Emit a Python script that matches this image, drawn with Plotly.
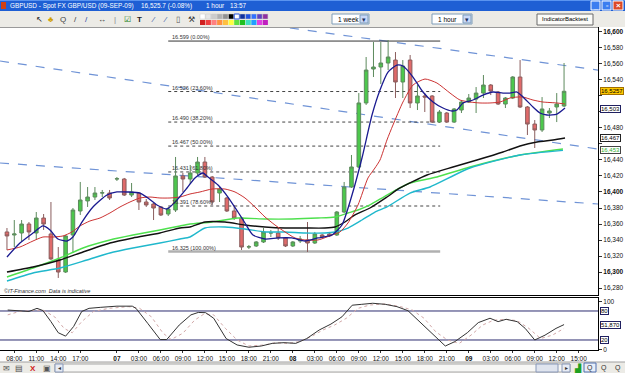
import plotly.graph_objects as go

# ---------------- data ----------------
candle_open = [16.3501,16.3463,16.3488,16.3600,16.3488,16.3675,16.3476,16.3151,16.3001,16.3463,
               16.3763,16.3888,16.3937,16.3987,16.3987,16.4162,16.4162,16.3962,16.3987,16.3875,
               16.3850,16.3813,16.3725,16.3775,16.4200,16.4162,16.4237,16.4374,16.4187,16.3987,
               16.3925,16.3763,16.3675,16.3313,16.3326,16.3376,16.3488,16.3488,16.3426,16.3326,
               16.3388,16.3401,16.3363,16.3463,16.3476,16.3463,16.3750,16.4062,16.4312,16.5111,
               16.5535,16.5560,16.5610,16.5647,16.5373,16.5647,16.5111,16.5198,16.5198,16.4873,
               16.4986,16.4873,16.5023,16.5123,16.5160,16.5235,16.5335,16.5248,16.5098,16.5173,
               16.5435,16.5061,16.4848,16.4774,16.4986,16.5061,16.5073]
candle_high = [16.3550,16.3650,16.3650,16.3625,16.3750,16.3725,16.3875,16.3313,16.3463,16.3800,
               16.4125,16.4062,16.4062,16.4025,16.4025,16.4187,16.4175,16.4112,16.4000,16.3912,
               16.3863,16.3825,16.3813,16.4437,16.4237,16.4337,16.4437,16.4437,16.4200,16.4062,
               16.3937,16.3838,16.3688,16.3338,16.3388,16.3550,16.3526,16.3550,16.3438,16.3388,
               16.3451,16.3625,16.3501,16.3476,16.3501,16.3763,16.4125,16.4462,16.5235,16.5685,
               16.5872,16.5872,16.5897,16.5747,16.5647,16.5710,16.5335,16.5235,16.5210,16.5023,
               16.4998,16.5048,16.5148,16.5223,16.5310,16.5460,16.5348,16.5260,16.5185,16.5447,
               16.5647,16.5073,16.4898,16.5185,16.5048,16.5235,16.5610]
candle_low = [16.3276,16.3313,16.3376,16.3401,16.3401,16.3526,16.3151,16.2927,16.2989,16.3239,
              16.3713,16.3813,16.3900,16.3937,16.3900,16.4137,16.3950,16.3937,16.3775,16.3813,
              16.3650,16.3700,16.3700,16.3750,16.4000,16.4100,16.4212,16.4175,16.3838,16.3875,
              16.3750,16.3650,16.3276,16.3288,16.3313,16.3363,16.3438,16.3401,16.3313,16.3313,
              16.3363,16.3251,16.3351,16.3426,16.3438,16.3451,16.3738,16.4050,16.4299,16.5086,
              16.5435,16.5348,16.5522,16.5173,16.5173,16.5048,16.5023,16.4998,16.4861,16.4861,
              16.4861,16.4861,16.4986,16.5111,16.4986,16.5173,16.5210,16.5086,16.5048,16.5160,
              16.5048,16.4711,16.4549,16.4749,16.4923,16.4873,16.5061]
candle_close = [16.3451,16.3476,16.3600,16.3501,16.3675,16.3600,16.3164,16.3001,16.3451,16.3775,
                16.3900,16.3937,16.3987,16.3990,16.3925,16.4165,16.3962,16.4000,16.3875,16.3838,
                16.3800,16.3713,16.3788,16.4200,16.4162,16.4237,16.4374,16.4187,16.3875,16.4037,
                16.3763,16.3675,16.3313,16.3316,16.3376,16.3501,16.3490,16.3426,16.3326,16.3376,
                16.3413,16.3363,16.3476,16.3438,16.3451,16.3750,16.4062,16.4312,16.5111,16.5522,
                16.5560,16.5610,16.5685,16.5373,16.5572,16.5111,16.5198,16.5185,16.4873,16.4998,
                16.4873,16.5036,16.5123,16.5173,16.5235,16.5335,16.5260,16.5098,16.5173,16.5435,
                16.5061,16.4848,16.4774,16.5036,16.5011,16.5098,16.5257]
candle_idx = list(range(len(candle_open)))

# moving averages (candle index, price)
blue_ma_x = [0,1.77,3.55,4.91,5.87,6.96,8.19,9.0,10.23,11.73,13.64,15.0,16.51,18.14,19.24,20.46,21.83,23.19,
             24.56,25.65,26.74,27.42,28.79,30.15,31.51,32.47,33.56,35.2,36.97,38.88,40.65,42.43,44.34,45.7,
             47.07,48.43,49.8,50.89,51.98,53.2,54.02,55.39,56.75,58.12,59.48,60.71,61.39,62.21,63.57,64.94,
             66.3,67.67,68.62,69.58,70.4,71.76,72.71,73.67,75.03,76.13]
blue_ma_y = [16.3189,16.3363,16.3488,16.3576,16.3526,16.3413,16.3388,16.3438,16.3625,16.3813,16.3962,16.4000,
             16.4000,16.3987,16.3925,16.3838,16.3788,16.3900,16.4050,16.4175,16.4237,16.4187,16.4087,16.3937,
             16.3750,16.3613,16.3463,16.3413,16.3426,16.3426,16.3388,16.3426,16.3463,16.3588,16.3962,16.4424,
             16.4961,16.5273,16.5497,16.5585,16.5572,16.5435,16.5248,16.5123,16.5048,16.5011,16.5023,16.5111,
             16.5148,16.5210,16.5248,16.5235,16.5235,16.5248,16.5185,16.5061,16.4986,16.4961,16.4973,16.5048]
red_ma_x = [0,1.77,3.55,4.91,6.28,7.64,8.87,9.96,11.32,12.69,14.05,15.42,16.78,18.14,19.51,20.87,22.24,23.6,
            24.97,26.33,27.97,29.74,31.11,32.47,33.83,35.2,36.56,37.93,39.29,40.65,42.43,44.34,45.43,46.52,
            47.89,49.25,50.2,50.89,51.84,52.66,54.02,55.39,57.03,58.66,60.44,61.8,63.17,64.53,65.89,67.26,
            68.62,69.58,70.4,71.76,73.12,75.03,76.13]
red_ma_y = [16.3276,16.3313,16.3388,16.3438,16.3438,16.3451,16.3501,16.3576,16.3638,16.3675,16.3738,16.3813,
            16.3875,16.3925,16.3937,16.3925,16.3925,16.3937,16.3975,16.4000,16.4037,16.4037,16.4000,16.3925,
            16.3813,16.3688,16.3588,16.3501,16.3426,16.3401,16.3401,16.3463,16.3501,16.3613,16.3838,16.4175,
            16.4299,16.4399,16.4649,16.4836,16.5123,16.5335,16.5410,16.5360,16.5235,16.5148,16.5123,16.5111,
            16.5111,16.5123,16.5173,16.5185,16.5185,16.5148,16.5123,16.5111,16.5098]
black_ma_x = [0,3.55,7.23,10.37,14.05,17.19,20.87,23.6,24.97,27.01,29.74,32.47,35.2,37.93,40.65,43.38,44.75,
              46.11,47.48,49.52,51.84,53.62,57.3,60.85,64.12,67.67,69.99,72.31,74.49,76.13]
black_ma_y = [16.3001,16.3064,16.3151,16.3251,16.3363,16.3426,16.3488,16.3550,16.3563,16.3625,16.3625,16.3588,
              16.3563,16.3550,16.3550,16.3550,16.3563,16.3625,16.3713,16.3800,16.3937,16.4050,16.4212,16.4312,
              16.4399,16.4499,16.4574,16.4624,16.4649,16.4674]
green_ma_x = [0,3.55,7.23,10.37,14.05,17.19,20.87,23.6,24.97,27.97,31.51,35.2,38.88,42.43,44.75,46.52,47.89,
              49.52,51.84,54.98,58.66,63.17,69.99,75.85]
green_ma_y = [16.2939,16.3051,16.3176,16.3301,16.3401,16.3463,16.3526,16.3576,16.3600,16.3625,16.3675,16.3663,
              16.3663,16.3675,16.3688,16.3738,16.3775,16.3838,16.3962,16.4112,16.4187,16.4312,16.4462,16.4537]
cyan_ma_x = [0,3.55,7.23,10.91,14.05,17.19,20.87,23.6,24.97,27.01,29.74,32.47,35.2,37.93,40.65,43.38,44.75,
             46.52,48.43,50.2,51.84,54.98,57.71,63.17,69.99,75.85]
cyan_ma_y = [16.2889,16.2989,16.3051,16.3151,16.3239,16.3301,16.3363,16.3413,16.3438,16.3550,16.3563,16.3538,
             16.3501,16.3501,16.3488,16.3488,16.3501,16.3550,16.3650,16.3750,16.3813,16.3987,16.4062,16.4299,
             16.4462,16.4520]

# drawn trend lines: (x0, y0, x1, y1)
trend_lines = [(-0.95, 16.5635, 80.63, 16.4536),
               (38.6, 16.6047, 80.63, 16.5522),
               (-0.95, 16.4362, 80.63, 16.3850)]

# fibonacci retracement
fib_price = [16.5884, 16.5254, 16.4873, 16.4573, 16.4250, 16.3825, 16.3257]
fib_text = ['16.599 (0.00%)', '16.526 (23.60%)', '16.490 (38.20%)', '16.467 (50.00%)',
            '16.431 (61.80%)', '16.391 (78.60%)', '16.325 (100.00%)']
fib_x0, fib_x1 = 22.0, 59.1

# stochastic oscillator
stoch_k_x = [0.1,1.6,3.0,4.1,4.9,6.0,7.0,8.0,9.1,10.2,11.2,12.8,15.0,17.1,17.6,19.2,20.9,21.8,23.5,25.1,26.1,
             27.1,28.2,29.9,31.4,33.0,34.7,36.2,37.8,39.4,40.9,42.6,44.2,45.7,47.1,48.4,49.9,51.6,53.2,54.7,56.3,
             58.0,59.8,61.1,62.8,64.3,65.9,67.0,68.1,69.6,70.7,72.0,73.4,74.9,76.0]
stoch_k = [82,81,79,85.5,81,58,35,28,48,79,85.5,87.6,90,90,85.5,54.5,21,21,51,72,77,76.5,65,23,9.7,5,7.6,13,
           14.5,13,23,40.7,53,68,92,93.8,96,93.8,89,80.7,58,34,7.6,16.6,35,56,65,58,62.8,58,44,20,30,44,51.87]
stoch_d_x = [0.1,1.7,3.3,4.9,6.5,7.8,8.9,10.2,11.8,13.9,16.6,18.1,19.7,21.3,22.4,24.0,25.6,26.9,28.2,29.8,31.4,
             33.0,35.1,36.7,38.3,39.9,41.5,43.1,44.7,46.3,47.9,49.5,51.6,53.7,55.3,56.9,58.5,60.1,61.7,63.3,64.9,
             66.4,68.0,69.6,71.2,72.8,74.4,76.0]
stoch_d = [72,79,81,82,68,44,35,58,79,85.5,89,85.5,68,34,21,34,61,74,72,44,20,7.6,9.7,14.5,13,16.6,27,40.7,
           51,65,85.5,92.4,94.5,89,82,65,37,20,13,30,51,61,62.8,60,44,23,30,44]

# axis ticks
time_tick_idx = [1,4,7,10,15,18,21,24,27,30,33,36,39,42,45,48,51,54,57,60,63,66,69,72,75,78]
time_tick_text = ['08:00','11:00','14:00','17:00','<b>07</b>','03:00','06:00','09:00','12:00','15:00','18:00',
                  '21:00','<b>08</b>','03:00','06:00','09:00','12:00','15:00','18:00','21:00','<b>09</b>',
                  '03:00','06:00','09:00','12:00','15:00']
price_ticks = [16.28 + 0.02 * i for i in range(17)]
price_hidden = ['16.460', '16.500', '16.520']   # covered by the value boxes in the picture
price_tick_text = []
for v in price_ticks:
    s = '%.3f' % v
    if s in price_hidden:
        price_tick_text.append('')
    elif abs(v * 10 - round(v * 10)) < 1e-6:
        price_tick_text.append('<b>%s</b>' % s.replace('.', ','))
    else:
        price_tick_text.append(s.replace('.', ','))

# ---------------- layout helpers (pixel -> paper) ----------------
PLX0, PLX1, PLY0, PLY1 = 0, 598, 28, 350
def X(p): return (p - PLX0) / (PLX1 - PLX0)
def Y(p): return 1 - (p - PLY0) / (PLY1 - PLY0)

shapes, annos = [], []
FONT = 'Liberation Sans'

def rect(x0, y0, x1, y1, fill, line=None, lw=1):
    shapes.append(dict(type='rect', xref='paper', yref='paper', x0=X(x0), x1=X(x1), y0=Y(y1), y1=Y(y0),
                       fillcolor=fill, line=dict(color=line if line else fill, width=lw if line else 0),
                       layer='above'))

def hline(x0, x1, y, color, w=1):
    shapes.append(dict(type='line', xref='paper', yref='paper', x0=X(x0), x1=X(x1), y0=Y(y), y1=Y(y),
                       line=dict(color=color, width=w), layer='above'))

def txt(x, y, s, size=7, color='#000', anchor='left', bold=False, italic=False):
    if bold: s = '<b>' + s + '</b>'
    if italic: s = '<i>' + s + '</i>'
    annos.append(dict(x=X(x), y=Y(y), xref='paper', yref='paper', text=s, showarrow=False, xanchor=anchor,
                      yanchor='middle', font=dict(size=size, color=color, family=FONT)))

fig = go.Figure()

fig.add_trace(go.Candlestick(
    x=candle_idx, open=candle_open, high=candle_high, low=candle_low, close=candle_close,
    xaxis='x2', yaxis='y2', whiskerwidth=0, hoverinfo='skip', showlegend=False,
    increasing=dict(fillcolor='#4cc84c', line=dict(color='#5d8a5d', width=1)),
    decreasing=dict(fillcolor='#e06a6a', line=dict(color='#8a5d5d', width=1))))

for xs, ys, col, w in [(green_ma_x, green_ma_y, '#4ee04e', 1.4), (cyan_ma_x, cyan_ma_y, '#20b8cc', 1.4),
                       (black_ma_x, black_ma_y, '#111111', 1.4), (red_ma_x, red_ma_y, '#cc3333', 1.0),
                       (blue_ma_x, blue_ma_y, '#1a1a90', 1.3)]:
    fig.add_trace(go.Scatter(x=xs, y=ys, mode='lines', xaxis='x2', yaxis='y2', hoverinfo='skip',
                             line=dict(color=col, width=w, shape='spline', smoothing=0.6), showlegend=False))

fig.add_trace(go.Scatter(x=stoch_d_x, y=stoch_d, mode='lines', xaxis='x', yaxis='y', hoverinfo='skip',
                         line=dict(color='#d2a8a8', width=1, dash='dot'), showlegend=False))
fig.add_trace(go.Scatter(x=stoch_k_x, y=stoch_k, mode='lines', xaxis='x', yaxis='y', hoverinfo='skip',
                         line=dict(color='#333333', width=1), showlegend=False))

# trend lines
for (x0, y0, x1, y1) in trend_lines:
    shapes.append(dict(type='line', xref='x2', yref='y2', x0=x0, y0=y0, x1=x1, y1=y1, layer='below',
                       line=dict(color='#6f93d6', width=1.2, dash='dash')))
# fib lines
for i, (p, t) in enumerate(zip(fib_price, fib_text)):
    if i == 0:
        ln = dict(color='#333333', width=1)
    elif i == len(fib_price) - 1:
        ln = dict(color='#b0b0b0', width=2.5)
    else:
        ln = dict(color='#444444', width=1, dash='dot')
    shapes.append(dict(type='line', xref='x2', yref='y2', x0=fib_x0, x1=fib_x1, y0=p, y1=p, layer='below', line=ln))
    annos.append(dict(x=fib_x0 + 0.25, y=p, xref='x2', yref='y2', text=t, showarrow=False, xanchor='left',
                      yanchor='bottom', yshift=-1, font=dict(size=5.5, color='#333', family=FONT)))

# stochastic level lines
for lv in (80, 20):
    shapes.append(dict(type='line', xref='paper', yref='y', x0=0, x1=1, y0=lv, y1=lv,
                       line=dict(color='#2c2c70', width=1), layer='below'))

# right-side value boxes
def vbox(yref, yv, s, fg='#000', bg='white', border='#202060'):
    annos.append(dict(x=X(600), y=yv, xref='paper', yref=yref, text=s, showarrow=False, xanchor='left',
                      yanchor='middle', bgcolor=bg, bordercolor=border, borderwidth=1, borderpad=0,
                      font=dict(size=6, color=fg, family=FONT)))
vbox('y2', 16.5257, '16,5257', bg='#ffc800', border='#a07000')
vbox('y2', 16.503, '16,503')
vbox('y2', 16.4675, '16,467', border='#222')
vbox('y2', 16.4525, '16,453', fg='#30b030', border='#444')
vbox('y', 80, '80')
vbox('y', 51.87, '51,870')
vbox('y', 20, '20')

txt(2, 291, '©IT-Finance.com  Data is indicative', size=5.5, color='#333', italic=True)

# ---------------- window chrome ----------------
rect(0, 0, 625, 11, '#1e5fd4')
hline(0, 625, 0.5, '#5a94f0', 1)
rect(1, 2, 6, 9, '#d04010')
txt(8, 5.5, 'GBPUSD - Spot FX GBP/USD (09-SEP-09)', size=6.4, color='white')
txt(139, 5.5, '16,525.7 (-0.08%)', size=6.4, color='white')
txt(204, 5.5, '1 hour', size=6.4, color='white')
txt(228, 5.5, '13:57', size=6.4, color='white')
rect(591, 1, 600, 10, '#3c7ef0', '#ffffff', 1)
rect(602, 1, 611, 10, '#3c7ef0', '#ffffff', 1)
rect(613, 1, 623, 10, '#dc4a28', '#ffffff', 1)
txt(595.5, 6.5, '_', size=7, color='white', anchor='center', bold=True)
txt(606.5, 5.5, '▫', size=7, color='white', anchor='center')
txt(618, 5.5, '×', size=8, color='white', anchor='center', bold=True)

rect(0, 11, 625, 27, '#ecebe6')
hline(0, 598, 27.5, '#9a9a9a', 1)
icons = [(39, '↖', '#222'), (51, '♣', '#d0a000'), (63, 'Q', '#444'), (75, '/', '#333'), (87, '/', '#2040a0'),
         (102, '↔', '#333'), (115, '|', '#888'), (127, '☑', '#208020'), (139, 'T', '#222'),
         (153, '⁄', '#3050a0'), (165, '⁄', '#3050a0'), (178, '▯', '#555'), (191, '⚒', '#333')]
for x, ch, col in icons:
    txt(x, 19.5, ch, size=8, color=col, anchor='center', bold=(ch == 'T'))
pal_top = ['#ffffff', '#e6e6e6', '#cccccc', '#b0b0b0', '#909090', '#000000', '#ffffff', '#1030a0',
           '#2050e0', '#3070ff', '#6040c0', '#9030a0']
pal_bot = ['#d02020', '#f04040', '#ff8080', '#ff9040', '#ffc040', '#ffff40', '#60e040', '#20c020',
           '#40e0c0', '#20a0ff', '#e040e0', '#c020c0']
for i, (c1, c2) in enumerate(zip(pal_top, pal_bot)):
    x0 = 200 + i * 5.7
    rect(x0, 14, x0 + 5.2, 19, c1, '#c8c8c8' if i != 6 else '#2050e0', 1 if i == 6 else 0.5)
    rect(x0, 20, x0 + 5.2, 25, c2)
for (x0, x1, label) in [(332, 369, '1 week'), (432, 472, '1 hour')]:
    rect(x0, 14, x1, 24, 'white', '#7f9db9', 1)
    rect(x1 - 9, 15, x1 - 1, 23, '#c8d8f8', '#7f9db9', 1)
    txt(x1 - 5, 19, '▾', size=7, color='#203060', anchor='center')
    txt(x0 + 4, 19, label, size=6.5, color='#000')
rect(537, 14, 593, 25, '#fbfbf8', '#6a6a6a', 1)
txt(565, 19.5, 'IndicatorBacktest', size=6, color='#000', anchor='center')

# bottom bar
rect(0, 362, 625, 373, '#ecebe6')
hline(0, 625, 362, '#a0a0a0', 1)
txt(6, 368, '✉', size=8, color='#555', anchor='center')
txt(19, 368, '▤', size=8, color='#444', anchor='center')
txt(33, 368, 'X', size=8, color='#d02020', anchor='center', bold=True)
txt(47, 368, '▣', size=8, color='#555', anchor='center')
rect(55, 364, 570, 372, '#f7f7f5', '#a8a8a8', 1)
rect(55, 364, 63, 372, '#e8ecf4', '#8898b8', 1)
txt(59, 368, '◂', size=6, color='#333', anchor='center')
rect(562, 364, 570, 372, '#e8ecf4', '#8898b8', 1)
txt(566, 368, '▸', size=6, color='#333', anchor='center')
rect(536, 364, 558, 372, '#dfe4ee', '#8898b8', 1)
txt(578, 367.5, '▟', size=8, color='#20a020', anchor='center')
rect(584, 363, 596, 372, '#e8eef8', '#5070b0', 1)
txt(590, 367.5, 'Q', size=7, color='#333', anchor='center')
txt(604, 367.5, 'Q', size=7, color='#333', anchor='center')
txt(618, 367.5, 'Q', size=7, color='#333', anchor='center')

axis_font = dict(size=6.5, color='#111', family=FONT)
fig.update_layout(
    width=625, height=373, margin=dict(l=0, r=27, t=28, b=23),
    paper_bgcolor='white', plot_bgcolor='white', showlegend=False,
    xaxis=dict(domain=[0, 1], anchor='y', range=[-0.95, 80.63], tickvals=time_tick_idx, ticktext=time_tick_text,
               ticks='outside', ticklen=2, tickcolor='#333', tickfont=axis_font, showline=True, linecolor='black',
               linewidth=1, mirror=True, showgrid=False, zeroline=False, rangeslider=dict(visible=False),
               tickangle=0),
    xaxis2=dict(domain=[0, 1], anchor='y2', matches='x', showticklabels=False, ticks='', showline=True,
                linecolor='black', linewidth=1, mirror=True, showgrid=False, zeroline=False,
                rangeslider=dict(visible=False)),
    yaxis=dict(domain=[0, 0.1615], range=[-0.7, 106.9], side='right', tickvals=[0, 100], ticktext=['0', '100'],
               ticks='outside', ticklen=3, tickcolor='#333', tickfont=axis_font, showline=True, linecolor='black',
               linewidth=1, mirror=True, showgrid=False, zeroline=False),
    yaxis2=dict(domain=[0.1708, 1], range=[16.2714, 16.6047], side='right', tickvals=price_ticks,
                ticktext=price_tick_text, ticks='outside', ticklen=3, tickcolor='#333', tickfont=axis_font,
                showline=True, linecolor='black', linewidth=1, mirror=True, showgrid=False, zeroline=False),
    shapes=shapes, annotations=annos,
)

fig.write_html('out.html')
